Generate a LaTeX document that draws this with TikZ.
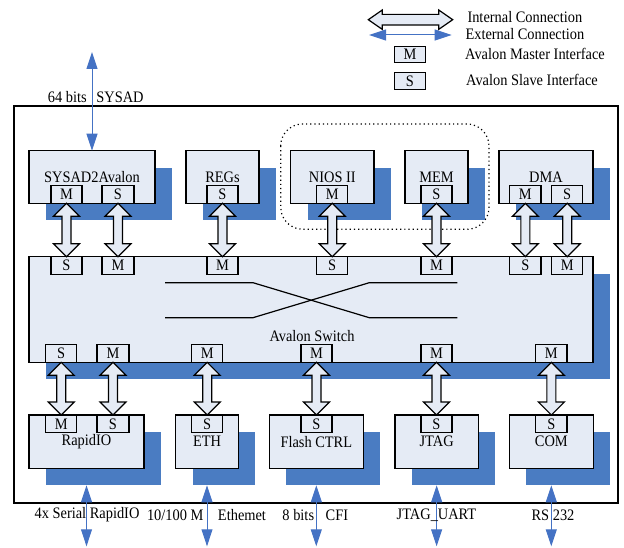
\documentclass[tikz,border=0pt]{standalone}
\usepackage{fontspec}
\setmainfont{Liberation Serif}[FakeStretch=0.9]
\usetikzlibrary{arrows.meta,calc,shadows}
\definecolor{lfill}{HTML}{E5EBF5}
\definecolor{shblue}{HTML}{4A7CC2}
\definecolor{ablue}{HTML}{4472C4}
\tikzset{
  box/.style={draw, line width=1.2pt, fill=lfill, inner sep=0pt, outer sep=0pt},
  blk/.style={box, general shadow={shadow xshift=17pt, shadow yshift=-17pt, fill=shblue}},
  iarrow/.style={draw, line width=1.2pt, fill=lfill, line join=miter},
  earrow/.style={draw=ablue, line width=1pt, {Triangle[width=11pt,length=17pt]}-{Triangle[width=11pt,length=17pt]}},
  lbl/.style={inner sep=0pt},
}
% #1 style, #2 name, #3 x1, #4 y1, #5 x2, #6 y2, #7 text
\newcommand\mkbox[7]{\node[#1, minimum width={(#5-#3)*1pt}, minimum height={(#6-#4)*1pt}] (#2) at ({(#3+#5)/2},{(#4+#6)/2}) {#7};}
% vertical double block arrow between top anchor #1 and bottom anchor #2
\newcommand\iarr[2]{\path[iarrow] let \p1=(#1), \p2=(#2) in
 (\x1,\y1) -- ({\x1+13pt},{\y1-13pt}) -- ({\x1+4.5pt},{\y1-13pt}) -- ({\x1+4.5pt},{\y2+13pt}) -- ({\x1+13pt},{\y2+13pt}) -- (\x1,\y2) -- ({\x1-13pt},{\y2+13pt}) -- ({\x1-4.5pt},{\y2+13pt}) -- ({\x1-4.5pt},{\y1-13pt}) -- ({\x1-13pt},{\y1-13pt}) -- cycle;}
% horizontal double block arrow, left #1, right #2
\newcommand\iarrh[2]{\path[iarrow] let \p1=(#1), \p2=(#2) in
 (\x1,\y1) -- ({\x1+14pt},{\y1+9.7pt}) -- ({\x1+14pt},{\y1+5.3pt}) -- ({\x2-14pt},{\y1+5.3pt}) -- ({\x2-14pt},{\y1+9.7pt}) -- (\x2,\y1) -- ({\x2-14pt},{\y1-9.7pt}) -- ({\x2-14pt},{\y1-5.3pt}) -- ({\x1+14pt},{\y1-5.3pt}) -- ({\x1+14pt},{\y1-9.7pt}) -- cycle;}
\begin{document}
\begin{tikzpicture}[x=1pt,y=-1pt, every node/.style={font=\fontsize{16pt}{18pt}\selectfont}]
\useasboundingbox (0,0) rectangle (624,548);
% board
\draw[line width=1.2pt] (14,106) rectangle (618,503);
\draw[line width=1.2pt, dash pattern=on 1.2pt off 3pt, rounded corners=22pt] (280.7,124) rectangle (489,229.3);

% top blocks
\mkbox{blk}{sysad}{29}{150.7}{155}{203.3}{SYSAD2Avalon}
\mkbox{blk}{regs}{186}{150.7}{259}{203.3}{REGs}
\mkbox{blk}{nios}{290.7}{150.7}{374}{203.3}{NIOS II}
\mkbox{blk}{mem}{405}{150.7}{468}{203.3}{MEM}
\mkbox{blk}{dma}{499}{150.7}{593}{203.3}{DMA}
% switch
\mkbox{blk}{sw}{29}{256.7}{593}{362.3}{}
% bottom blocks
\mkbox{blk}{rio}{29}{415}{144}{468.3}{\raisebox{-3pt}{RapidIO}}
\mkbox{blk}{eth}{175.7}{415}{238.3}{468.3}{\raisebox{-3pt}{ETH}}
\mkbox{blk}{flash}{269.3}{415}{363.3}{468.3}{\raisebox{-3pt}{Flash CTRL}}
\mkbox{blk}{jtag}{395}{415}{478.3}{468.3}{\raisebox{-3pt}{JTAG}}
\mkbox{blk}{com}{509.3}{415}{593.3}{468.3}{\raisebox{-3pt}{COM}}

% ports on top blocks
\mkbox{box}{sysM}{51}{185.8}{82}{203.3}{M}
\mkbox{box}{sysS}{102}{185.8}{134}{203.3}{S}
\mkbox{box}{regS}{207}{185.8}{238}{203.3}{S}
\mkbox{box}{niosM}{316.7}{185.8}{347.7}{203.3}{M}
\mkbox{box}{memS}{421}{185.8}{452}{203.3}{S}
\mkbox{box}{dmaM}{509.7}{185.8}{541}{203.3}{M}
\mkbox{box}{dmaS}{551.7}{185.8}{582.7}{203.3}{S}
% switch top ports
\mkbox{box}{swt1}{51}{256.7}{82}{274.2}{S}
\mkbox{box}{swt2}{102}{256.7}{134}{274.2}{M}
\mkbox{box}{swt3}{207}{256.7}{238}{274.2}{M}
\mkbox{box}{swt4}{316.7}{256.7}{347.7}{274.2}{S}
\mkbox{box}{swt5}{421}{256.7}{452}{274.2}{M}
\mkbox{box}{swt6}{509.7}{256.7}{541}{274.2}{S}
\mkbox{box}{swt7}{551.7}{256.7}{582.7}{274.2}{M}
% switch bottom ports
\mkbox{box}{swb1}{45.7}{344.8}{76.7}{362.3}{S}
\mkbox{box}{swb2}{97}{344.8}{129}{362.3}{M}
\mkbox{box}{swb3}{191.7}{344.8}{222.7}{362.3}{M}
\mkbox{box}{swb4}{301}{344.8}{332}{362.3}{M}
\mkbox{box}{swb5}{421}{344.8}{452}{362.3}{M}
\mkbox{box}{swb6}{535.7}{344.8}{567}{362.3}{M}
% bottom block ports
\mkbox{box}{rioM}{45.7}{415}{76.7}{432.7}{M}
\mkbox{box}{rioS}{97}{415}{129}{432.7}{S}
\mkbox{box}{ethS}{191.7}{415}{222.7}{432.7}{S}
\mkbox{box}{flashS}{301}{415}{332}{432.7}{S}
\mkbox{box}{jtagS}{421}{415}{452}{432.7}{S}
\mkbox{box}{comS}{535.7}{415}{567}{432.7}{S}

% switch crossbar
\coordinate (c1) at (165,282.7);
\coordinate (c2) at (253,282.7);
\coordinate (c3) at (369.3,282.7);
\coordinate (c4) at (457.3,282.7);
\coordinate (d1) at (165,317.7);
\coordinate (d2) at (253,317.7);
\coordinate (d3) at (369.3,317.7);
\coordinate (d4) at (457.3,317.7);
\draw[line width=1.2pt] (c1) -- (c2) -- (d3) -- (d4);
\draw[line width=1.2pt] (d1) -- (d2) -- (c3) -- (c4);
\node[lbl] (swlbl) at (312,336) {Avalon Switch};

% internal connections
\iarr{sysM.south}{swt1.north}
\iarr{sysS.south}{swt2.north}
\iarr{regS.south}{swt3.north}
\iarr{niosM.south}{swt4.north}
\iarr{memS.south}{swt5.north}
\iarr{dmaM.south}{swt6.north}
\iarr{dmaS.south}{swt7.north}
\iarr{swb1.south}{rioM.north}
\iarr{swb2.south}{rioS.north}
\iarr{swb3.south}{ethS.north}
\iarr{swb4.south}{flashS.north}
\iarr{swb5.south}{jtagS.north}
\iarr{swb6.south}{comS.north}

% external connections
\coordinate (sysE) at (92,52);
\draw[earrow] (sysE) -- (sysad.north);
\foreach \n in {rio,eth,flash,jtag,com}{
  \coordinate (\n A) at ($(\n.south)+(0,17)$);
  \coordinate (\n E) at ($(\n.south)+(0,78)$);
  \draw[earrow] (\n A) -- (\n E);
}
\node[lbl] (l64) at (95.8,97) {64 bits\hspace{6pt} SYSAD};
\node[lbl] (lrio) at (87,515) {4x Serial RapidIO};
\node[lbl] (leth) at (206.5,515) {10/100 M\hspace{11pt} Ethemet};
\node[lbl] (lflash) at (315.3,515) {8 bits\hspace{8pt} CFI};
\node[lbl] (ljtag) at (436.5,515) {JTAG\_UART};
\node[lbl] (lcom) at (553,515) {RS 232};

% legend
\coordinate (lgA) at (368.3,19.7);
\coordinate (lgB) at (452.7,19.7);
\iarrh{lgA}{lgB}
\coordinate (lgC) at (369,35);
\coordinate (lgD) at (451.7,35);
\draw[earrow] (lgC) -- (lgD);
\mkbox{box}{lgM}{394.3}{46.7}{425.7}{62.3}{M}
\mkbox{box}{lgS}{394.3}{72.7}{425.7}{89.3}{S}
\node[lbl, anchor=west] (lt1) at (467.3,16.7) {Internal Connection};
\node[lbl, anchor=west] (lt2) at (465.3,34) {External Connection};
\node[lbl, anchor=west] (lt3) at (465,54) {Avalon Master Interface};
\node[lbl, anchor=west] (lt4) at (466,80) {Avalon Slave Interface};
\end{tikzpicture}
\end{document}
